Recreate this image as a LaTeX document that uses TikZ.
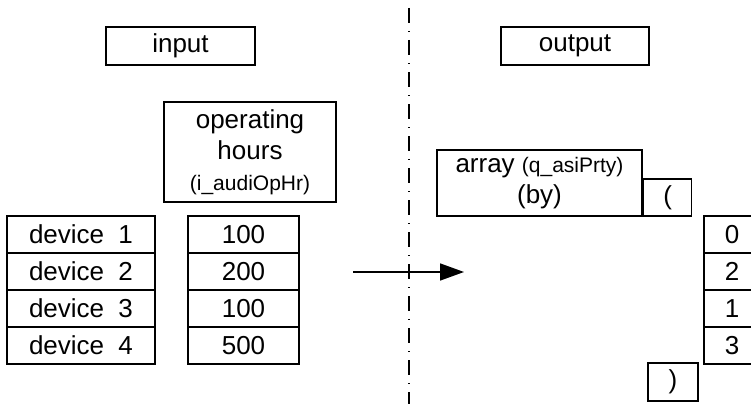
\documentclass[tikz,border=0pt]{standalone}
\usepackage{fontspec}
\setmainfont{Liberation Sans}
\usetikzlibrary{arrows.meta}
\begin{document}
\begin{tikzpicture}[x=1pt,y=-1pt,
  box/.style={draw, line width=1.6pt, rectangle, inner sep=0pt, align=center,
    font=\fontsize{26}{31}\selectfont}]
\useasboundingbox (0,0) rectangle (751,404);
\clip (0,0) rectangle (751,404);
% titles
\node[box, minimum width=149pt, minimum height=38pt] (input) at (180.5,46) {input};
\node[box, minimum width=148pt, minimum height=38pt] (output) at (575,46) {output};
% operating hours
\node[box, minimum width=172pt, minimum height=100pt] (oph) at (250,152)
  {operating\\hours\\{\fontsize{21}{24}\selectfont(i\_audiOpHr)}};
% device column
\foreach \i/\y in {1/234.5,2/271.5,3/308.5,4/345.5}{
  \node[box, minimum width=148pt, minimum height=37pt] (dev\i) at (81,\y) {device\hspace{0.55em}\i};
}
\foreach \i/\y/\v in {1/234.5/100,2/271.5/200,3/308.5/100,4/345.5/500}{
  \node[box, minimum width=111pt, minimum height=37pt] (val\i) at (243.5,\y) {\v};
}
% output array
\node[box, minimum width=205pt, minimum height=66pt] (arr) at (539.5,183)
  {array {\fontsize{21}{24}\selectfont(q\_asiPrty)}\\(by)};
\node[box, minimum width=48pt, minimum height=37pt, anchor=south west] (lp) at (arr.south east) {(};
\foreach \i/\y/\v in {1/234.5/0,2/271.5/2,3/308.5/1,4/345.5/3}{
  \node[box, minimum width=56pt, minimum height=37pt] (out\i) at (732,\y) {\v};
}
\node[box, minimum width=50pt, minimum height=38pt] (rp) at (673,382) {)};
% separator
\coordinate (sepT) at (409,8);
\coordinate (sepB) at (409,404);
\draw[line width=1.6pt, dash pattern=on 15pt off 8pt on 1pt off 8pt] (sepT) -- (sepB);
% arrow
\coordinate (as) at (353,272);
\coordinate (ae) at (464,272);
\draw[line width=1.6pt, -{Triangle[length=24pt,width=17pt]}] (as) -- (ae);
\end{tikzpicture}
\end{document}
